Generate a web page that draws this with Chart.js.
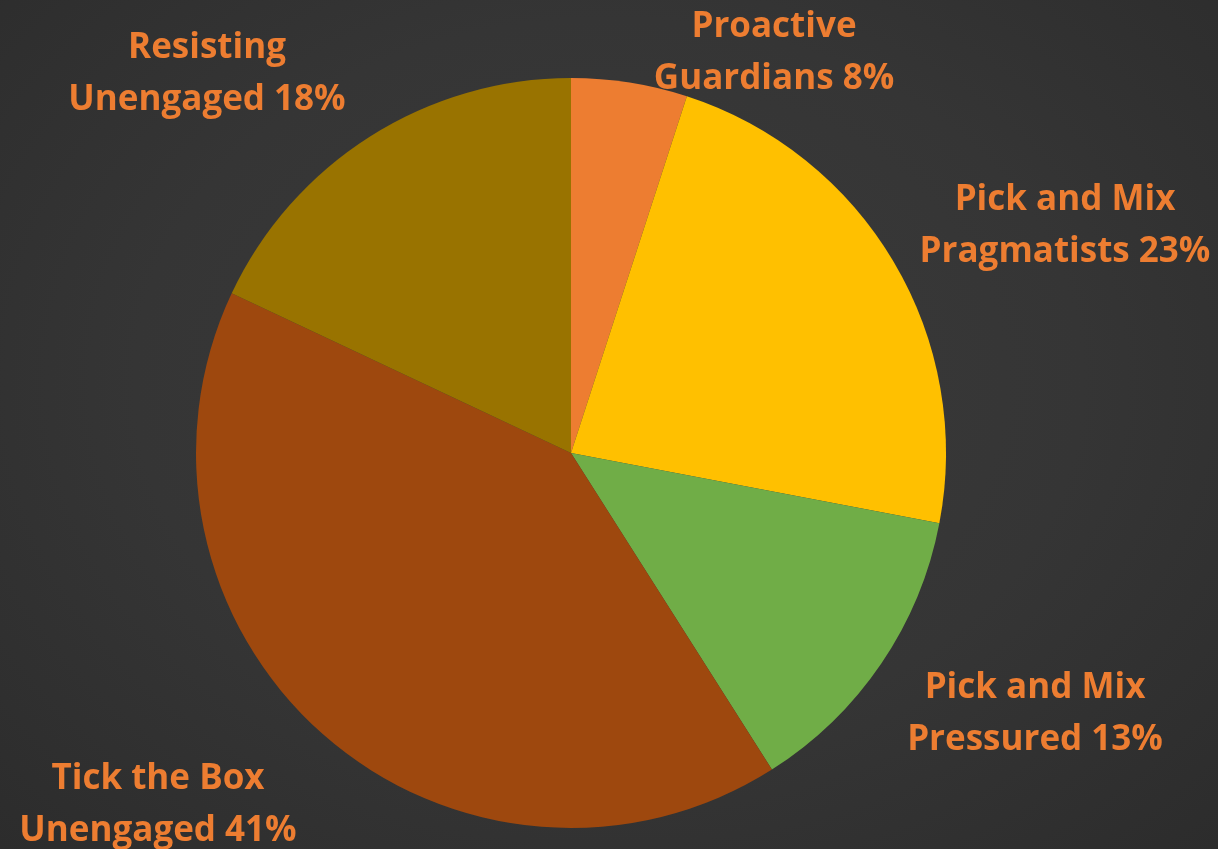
<!DOCTYPE html>
<html>
<head>
<meta charset="utf-8">
<script src="https://cdn.jsdelivr.net/npm/chart.js@4.4.0/dist/chart.umd.min.js"></script>
<style>
  html, body { margin: 0; padding: 0; }
  body {
    width: 1218px; height: 849px; overflow: hidden;
    background: radial-gradient(ellipse at 50% 45%, #3b3b3b 0%, #353535 55%, #2c2c2c 100%);
  }
  #wrap { position: relative; width: 1218px; height: 849px; }
</style>
</head>
<body>
<div id="wrap"><canvas id="pie" width="1218" height="849"></canvas></div>
<script>
// segments, clockwise from 12 o'clock
const segments = ["Proactive Guardians", "Pick and Mix Pragmatists", "Pick and Mix Pressured", "Tick the Box Unengaged", "Resisting Unengaged"];
const shares = [5, 23, 13, 41, 18];
// label text as printed on the chart
const labelLines = [
  ["Proactive", "Guardians 8%"],
  ["Pick and Mix", "Pragmatists 23%"],
  ["Pick and Mix", "Pressured 13%"],
  ["Tick the Box", "Unengaged 41%"],
  ["Resisting", "Unengaged 18%"]
];
const colors = ["#ED7D31", "#FFC000", "#70AD47", "#9E480E", "#997300"];

// where the label blocks sit (centre x, first line y)
const labelSpots = [
  [774, 27], [1065, 200], [1035, 688], [158, 779], [207, 48]
];

const labelPlugin = {
  id: "sliceLabels",
  afterDraw(chart) {
    const ctx = chart.ctx;
    ctx.save();
    ctx.fillStyle = "#ED7D31";
    ctx.font = "bold 35px 'Open Sans'";
    ctx.textAlign = "center";
    ctx.textBaseline = "middle";
    labelLines.forEach((lines, i) => {
      const [x, y] = labelSpots[i];
      lines.forEach((t, j) => ctx.fillText(t, x, y + j * 52));
    });
    ctx.restore();
  }
};

new Chart(document.getElementById("pie"), {
  type: "pie",
  data: {
    labels: segments,
    datasets: [{
      data: shares,
      backgroundColor: colors,
      borderWidth: 0
    }]
  },
  options: {
    responsive: false,
    animation: false,
    layout: { padding: { left: 196, right: 272, top: 78, bottom: 21 } },
    plugins: { legend: { display: false }, tooltip: { enabled: false } }
  },
  plugins: [labelPlugin]
});
</script>
</body>
</html>
